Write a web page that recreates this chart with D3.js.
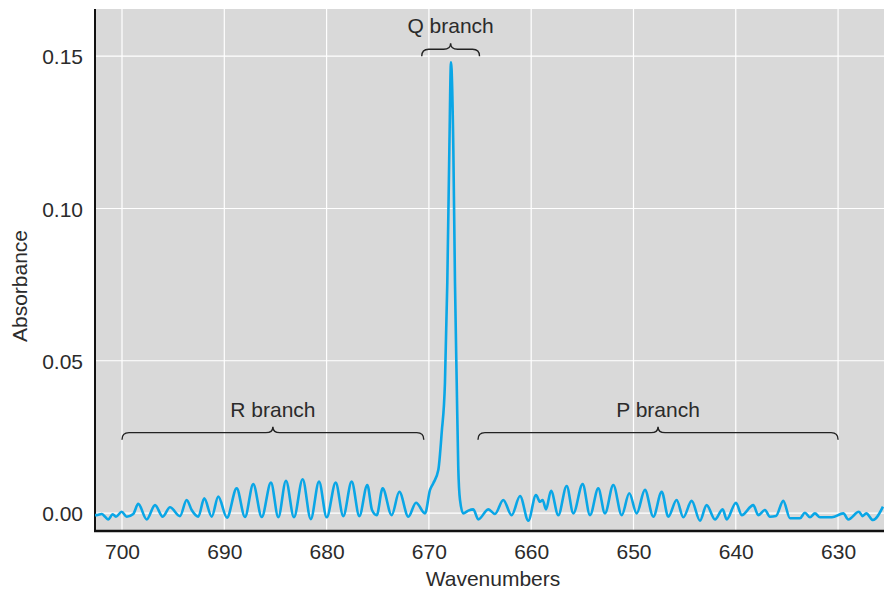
<!DOCTYPE html>
<html>
<head>
<meta charset="utf-8">
<script src="https://cdn.jsdelivr.net/npm/d3@7"></script>
<style>
  html, body { margin: 0; padding: 0; background: #ffffff; }
  svg { display: block; }
  text { font-family: "Liberation Sans", Arial, Helvetica, sans-serif; fill: #2b2b2b; }
</style>
</head>
<body>
<svg id="chart" width="884" height="592"></svg>
<script>
// ---- data ----
const wavenumber = [
  702.64, 702.47, 701.98, 701.66, 701.34, 700.91, 700.59, 700.03, 699.54, 698.90,
  698.41, 697.59, 696.77, 696.02, 695.31, 694.33, 693.68, 693.19, 692.54, 691.96,
  691.23, 690.59, 689.74, 688.79, 687.98, 687.17, 686.34, 685.44, 684.72, 683.97,
  683.19, 682.34, 681.55, 680.74, 679.99, 679.11, 678.37, 677.55, 676.80, 676.02,
  675.56, 675.10, 674.52, 673.64, 672.89, 672.01, 671.26, 670.38,
  669.89, 669.57, 669.08, 668.75, 668.43, 668.20, 668.00, 667.84, 667.61, 667.45,
  667.28, 667.13, 666.96, 666.64,
  666.15, 665.66, 665.17, 664.19, 663.54, 662.73, 661.91, 661.09, 660.28, 659.53,
  659.14, 658.88, 658.55, 658.06, 657.35, 656.53, 655.88, 654.97, 654.25, 653.44,
  652.79, 651.97, 651.15, 650.41, 649.69, 648.88, 648.06, 647.24, 646.60, 645.78,
  645.13, 644.31, 643.50, 642.85, 642.03, 641.28, 640.89, 639.98, 639.42, 638.29,
  637.80, 637.15, 636.66, 636.07, 635.36, 634.70, 633.72, 633.24, 632.75, 632.26,
  631.77, 630.60, 629.49, 629.00, 627.96, 627.60, 627.24, 626.59, 625.61
];
const absorbance = [
  -0.0007, -0.0007, -0.0003, -0.0012, -0.0021, -0.0004, -0.0012, 0.0004, -0.0012, -0.0003,
  0.0030, -0.0021, 0.0026, -0.0012, 0.0019, -0.0010, 0.0043, 0.0010, -0.0012, 0.0048,
  -0.0012, 0.0054, -0.0015, 0.0081, -0.0013, 0.0095, -0.0013, 0.0100, -0.0014, 0.0106,
  -0.0014, 0.0111, -0.0020, 0.0103, -0.0014, 0.0100, -0.0010, 0.0103, -0.0010, 0.0092,
  0.0010, -0.0007, 0.0081, -0.0007, 0.0070, -0.0012, 0.0034, -0.0001,
  0.0076, 0.0098, 0.0141, 0.0263, 0.0428, 0.0757, 0.1194, 0.1480, 0.1194, 0.0757,
  0.0428, 0.0151, 0.0043, -0.0001,
  0.0008, 0.0012, -0.0021, 0.0012, -0.0003, 0.0043, -0.0007, 0.0056, -0.0025, 0.0059,
  0.0037, 0.0043, 0.0012, 0.0073, -0.0007, 0.0089, -0.0001, 0.0095, -0.0007, 0.0081,
  -0.0001, 0.0092, -0.0007, 0.0065, -0.0001, 0.0076, -0.0012, 0.0070, -0.0012, 0.0043,
  -0.0014, 0.0040, -0.0025, 0.0026, -0.0021, 0.0012, -0.0021, 0.0034, -0.0007, 0.0026,
  -0.0007, 0.0010, -0.0012, -0.0010, 0.0040, -0.0017, -0.0017, 0.0001, -0.0014, -0.0001,
  -0.0014, -0.0014, -0.0001, -0.0021, 0.0004, -0.0010, -0.0001, -0.0023, 0.0021
];
const xTicks = [700, 690, 680, 670, 660, 650, 640, 630];
const yTicks = [0.00, 0.05, 0.10, 0.15];
const branchLabels = ["R branch", "Q branch", "P branch"];
const branchFrom = [700.0, 670.7, 665.2];
const branchTo = [670.5, 665.05, 630.0];
const branchLevel = [0.0264, 0.1523, 0.0264];

// ---- layout ----
const svg = d3.select("#chart");
const pLeft = 95, pRight = 884, pTop = 9, pBottom = 531;

const x = d3.scaleLinear().domain([702.64, 625.51]).range([pLeft, pRight]);
const y = d3.scaleLinear().domain([-0.0059, 0.1655]).range([pBottom, pTop]);

svg.append("defs").append("clipPath").attr("id", "clip")
  .append("rect").attr("x", pLeft).attr("y", pTop).attr("width", pRight - pLeft).attr("height", pBottom - pTop);

// background
svg.append("rect").attr("x", pLeft).attr("y", pTop).attr("width", pRight - pLeft).attr("height", pBottom - pTop)
  .attr("fill", "#d9d9d9");

// gridlines
const grid = svg.append("g").attr("clip-path", "url(#clip)");
grid.selectAll("line.v").data(xTicks).join("line").attr("class", "v")
  .attr("x1", d => x(d)).attr("x2", d => x(d)).attr("y1", pTop).attr("y2", pBottom)
  .attr("stroke", "#ffffff").attr("stroke-width", 1.2);
grid.selectAll("line.h").data(yTicks).join("line").attr("class", "h")
  .attr("x1", pLeft).attr("x2", pRight).attr("y1", d => y(d)).attr("y2", d => y(d))
  .attr("stroke", "#ffffff").attr("stroke-width", 1.2);

// axes
const xAxis = d3.axisBottom(x).tickValues(xTicks).tickSize(0).tickPadding(0).tickFormat(d3.format("d"));
const gx = svg.append("g").attr("transform", `translate(0,${pBottom})`).call(xAxis);
gx.select(".domain").remove();
gx.selectAll("text").attr("font-size", 21).attr("font-family", "Liberation Sans, Arial, sans-serif")
  .attr("fill", "#2b2b2b").attr("dy", null).attr("y", 28);

const yAxis = d3.axisLeft(y).tickValues(yTicks).tickSize(0).tickPadding(0).tickFormat(d3.format(".2f"));
const gy = svg.append("g").attr("transform", `translate(${pLeft},0)`).call(yAxis);
gy.select(".domain").remove();
gy.selectAll("text").attr("font-size", 21).attr("font-family", "Liberation Sans, Arial, sans-serif")
  .attr("fill", "#2b2b2b").attr("x", -12).attr("dy", "0.36em");

// axis lines
svg.append("line").attr("x1", pLeft).attr("x2", pLeft).attr("y1", pTop).attr("y2", pBottom + 1)
  .attr("stroke", "#111").attr("stroke-width", 2);
svg.append("line").attr("x1", pLeft - 1).attr("x2", pRight).attr("y1", pBottom).attr("y2", pBottom)
  .attr("stroke", "#111").attr("stroke-width", 2.5);

// spectrum line
const pts = wavenumber.map((w, i) => [w, absorbance[i]]);
const line = d3.line().x(d => x(d[0])).y(d => y(d[1])).curve(d3.curveMonotoneX);
svg.append("g").attr("clip-path", "url(#clip)").append("path")
  .datum(pts).attr("d", line)
  .attr("fill", "none").attr("stroke", "#0aa6e6").attr("stroke-width", 2.6)
  .attr("stroke-linejoin", "round");

// braces and labels
const r = 7;
branchLabels.forEach((lab, i) => {
  const x1 = x(branchFrom[i]), x2 = x(branchTo[i]), yy = y(branchLevel[i]);
  const xm = (x1 + x2) / 2;
  const p = `M${x1},${yy + r} Q${x1},${yy} ${x1 + r},${yy} L${xm - r},${yy} Q${xm},${yy} ${xm},${yy - r + 1}` +
            ` Q${xm},${yy} ${xm + r},${yy} L${x2 - r},${yy} Q${x2},${yy} ${x2},${yy + r}`;
  svg.append("path").attr("d", p).attr("fill", "none").attr("stroke", "#222").attr("stroke-width", 1.4);
  svg.append("text").attr("x", xm).attr("y", yy - 16).attr("text-anchor", "middle")
    .attr("font-size", 21).text(lab);
});

// axis titles
svg.append("text").attr("x", 493).attr("y", 586).attr("text-anchor", "middle")
  .attr("font-size", 21).text("Wavenumbers");
svg.append("text").attr("transform", "translate(27,286) rotate(-90)").attr("text-anchor", "middle")
  .attr("font-size", 21).text("Absorbance");
</script>
</body>
</html>
